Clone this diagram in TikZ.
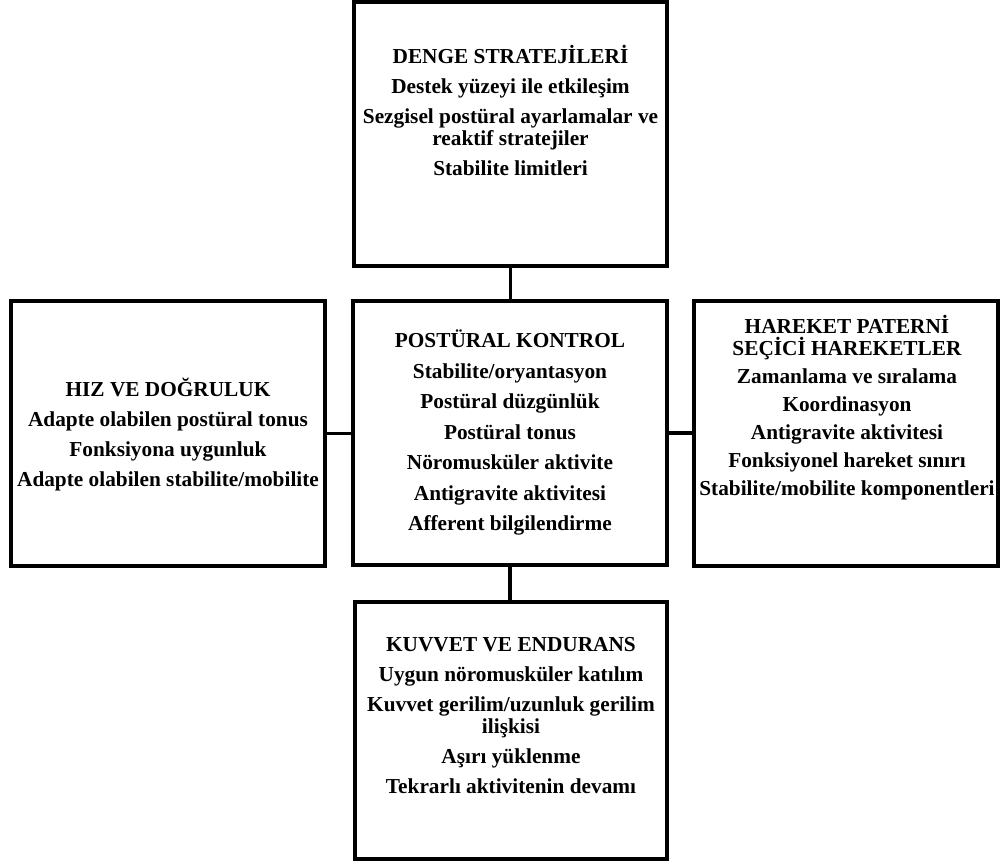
\documentclass[tikz,border=0pt]{standalone}
\usepackage{fontspec}
\setmainfont{Liberation Serif}
\tikzset{
  panel/.style={draw, line width=1.6pt, inner sep=0pt},
  paneltext/.style={align=center, inner sep=0pt,
    font=\bfseries\fontsize{10.65}{11}\selectfont},
  link/.style={line width=1.6pt}
}

\begin{document}
\begin{tikzpicture}[x=0.5pt,y=-0.5pt]
\useasboundingbox (0,0) rectangle (1000,863);

% boxes
\node[panel, minimum width=156.5pt, minimum height=132pt] (denge) at (510.5,134) {};
\node[panel, minimum width=157pt, minimum height=132pt] (postur) at (510,433) {};
\node[panel, minimum width=157pt, minimum height=132.5pt] (hiz) at (168,433.5) {};
\node[panel, minimum width=152pt, minimum height=132.5pt] (hareket) at (846,433.5) {};
\node[panel, minimum width=156pt, minimum height=128.5pt] (kuvvet) at (511,730.5) {};

% texts
\node[paneltext] (denge-t) at (510.5,110) {DENGE STRATEJİLERİ\\[4pt]
  Destek yüzeyi ile etkileşim\\[4pt]
  Sezgisel postüral ayarlamalar ve\\reaktif stratejiler\\[4pt]
  Stabilite limitleri};
\node[paneltext] (postur-t) at (510,432.5) {POSTÜRAL KONTROL\\[4.25pt]
  Stabilite/oryantasyon\\[4.25pt]
  Postüral düzgünlük\\[4.25pt]
  Postüral tonus\\[4.25pt]
  Nöromusküler aktivite\\[4.25pt]
  Antigravite aktivitesi\\[4.25pt]
  Afferent bilgilendirme};
\node[paneltext] (hiz-t) at (168,434.5) {HIZ VE DOĞRULUK\\[4pt]
  Adapte olabilen postüral tonus\\[4pt]
  Fonksiyona uygunluk\\[4pt]
  Adapte olabilen stabilite/mobilite};
\node[paneltext] (hareket-t) at (847,407.5) {HAREKET PATERNİ\\SEÇİCİ HAREKETLER\\[3pt]
  Zamanlama ve sıralama\\[3pt]
  Koordinasyon\\[3pt]
  Antigravite aktivitesi\\[3pt]
  Fonksiyonel hareket sınırı\\[3pt]
  Stabilite/mobilite komponentleri};
\node[paneltext] (kuvvet-t) at (511,716) {KUVVET VE ENDURANS\\[4pt]
  Uygun nöromusküler katılım\\[4pt]
  Kuvvet gerilim/uzunluk gerilim\\ilişkisi\\[4pt]
  Aşırı yüklenme\\[4pt]
  Tekrarlı aktivitenin devamı};

% connectors
\draw[link] (denge.south) -- (denge.south |- postur.north);
\draw[link] (hiz.east) -- (hiz.east -| postur.west);
\draw[link] (postur.east) -- (postur.east -| hareket.west);
\draw[link] (postur.south) -- (postur.south |- kuvvet.north);
\end{tikzpicture}
\end{document}
